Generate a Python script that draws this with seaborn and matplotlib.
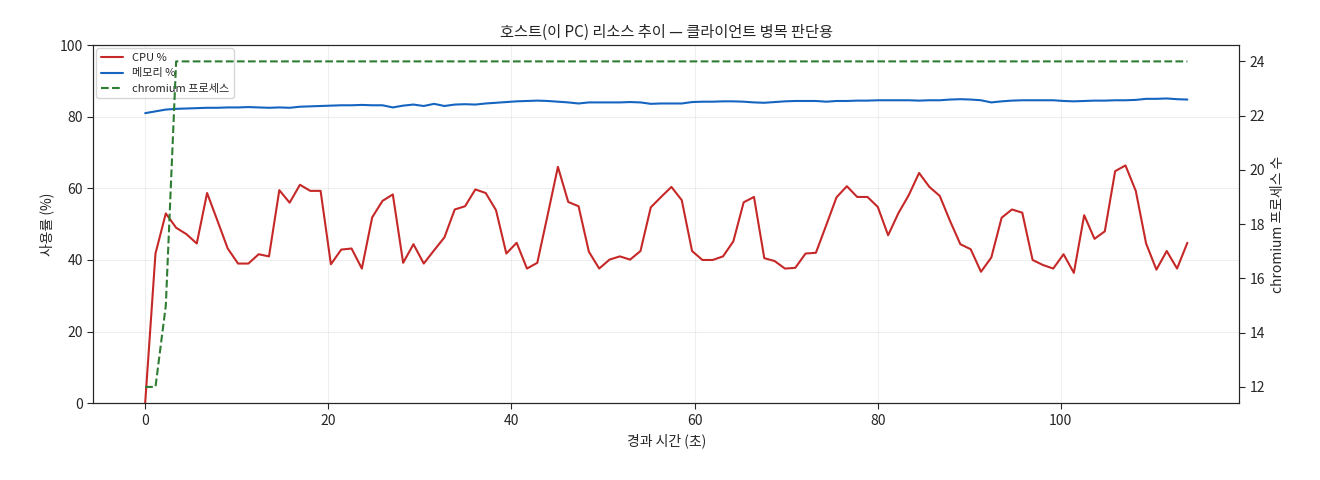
import numpy as np
import pandas as pd
import seaborn as sns
import matplotlib
matplotlib.use("Agg")
import matplotlib.pyplot as plt

sns.set_style("white")
plt.rcParams['font.family'] = ['Noto Sans CJK KR', 'DejaVu Sans']
plt.rcParams['axes.unicode_minus'] = False

# 샘플 간격(초)
sample_interval = 1.127

cpu_pct = [0, 41.8, 53, 49, 47.2, 44.6, 58.7, 51, 43.2, 39, 39, 41.6, 41, 59.5, 56, 61, 59.3, 59.3,
           38.8, 42.9, 43.2, 37.6, 51.9, 56.5, 58.3, 39.2, 44.4, 39, 42.7, 46.3, 54.1, 55, 59.7, 58.7,
           53.9, 41.8, 44.8, 37.6,
           39.2, 52.5, 66, 56.2, 55, 42.3, 37.6, 40.1, 41, 40.1, 42.5, 54.7, 57.6, 60.4, 56.7, 42.5,
           40, 40, 41, 45.2, 56.1, 57.6, 40.5, 39.7, 37.6, 37.8, 41.8, 42, 49.7, 57.5, 60.6, 57.6,
           57.6, 54.8, 46.9, 53.1, 58.1, 64.3, 60.4, 57.9, 50.9, 44.4, 43, 36.7, 40.7, 51.8, 54.1,
           53.2, 40, 38.6, 37.6, 41.6, 36.4, 52.5, 45.9, 48, 64.8, 66.4, 59.3, 44.6, 37.3, 42.5,
           37.6, 44.8]

mem_pct = [81, 81.5, 82, 82.2, 82.3, 82.4, 82.5, 82.5, 82.6, 82.6,
           82.7, 82.6, 82.5, 82.6, 82.5, 82.8, 82.9, 83, 83.1, 83.2,
           83.2, 83.3, 83.2, 83.2, 82.6, 83.1, 83.4, 83, 83.6, 83,
           83.4, 83.5, 83.4, 83.7, 83.9, 84.1, 84.3, 84.4, 84.5, 84.4,
           84.2, 84, 83.7, 84, 84, 84, 84, 84.1, 84, 83.6,
           83.7, 83.7, 83.7, 84.1, 84.2, 84.2, 84.3, 84.3, 84.2, 84,
           83.9, 84.1, 84.3, 84.4, 84.4, 84.4, 84.2, 84.4, 84.4, 84.5,
           84.5, 84.6, 84.6, 84.6, 84.6, 84.5, 84.6, 84.6, 84.8, 84.9,
           84.8, 84.6, 84, 84.3, 84.5, 84.6, 84.6, 84.6, 84.6, 84.4,
           84.3, 84.4, 84.5, 84.5, 84.6, 84.6, 84.7, 85, 85, 85.1,
           84.9, 84.8]

chromium_procs = [12, 12, 15, 24] + [24] * (len(cpu_pct) - 4)

n = len(cpu_pct)
df = pd.DataFrame({
    "t": np.arange(n) * sample_interval,
    "cpu": cpu_pct,
    "mem": mem_pct[:n],
    "proc": chromium_procs,
})

fig, ax = plt.subplots(figsize=(13.2, 4.8), dpi=100)
sns.lineplot(data=df, x="t", y="cpu", ax=ax, color="#c62828", lw=1.5, label="CPU %", legend=False)
sns.lineplot(data=df, x="t", y="mem", ax=ax, color="#1565c0", lw=1.5, label="메모리 %", legend=False)
ax.set_ylim(0, 100)
ax.set_xlabel("경과 시간 (초)", fontsize=10)
ax.set_ylabel("사용률 (%)", fontsize=10)
ax.grid(True, alpha=0.3)

ax2 = ax.twinx()
sns.lineplot(data=df, x="t", y="proc", ax=ax2, color="#2e7d32", lw=1.5, linestyle="--",
             label="chromium 프로세스", legend=False)
ax2.set_ylim(11.4, 24.6)
ax2.set_ylabel("chromium 프로세스 수", fontsize=10)

for a in (ax, ax2):
    a.tick_params(axis="both", direction="out", length=4, labelsize=10,
                  left=(a is ax), right=(a is ax2), bottom=True)

h1, l1 = ax.get_legend_handles_labels()
h2, l2 = ax2.get_legend_handles_labels()
ax.legend(h1 + h2, l1 + l2, loc="upper left", fontsize=8, framealpha=0.8,
          borderaxespad=0.3)

ax.set_title("호스트(이 PC) 리소스 추이 — 클라이언트 병목 판단용", fontsize=11)
fig.subplots_adjust(left=0.0705, right=0.939, top=0.906, bottom=0.16)
fig.savefig("out.png", dpi=100)
